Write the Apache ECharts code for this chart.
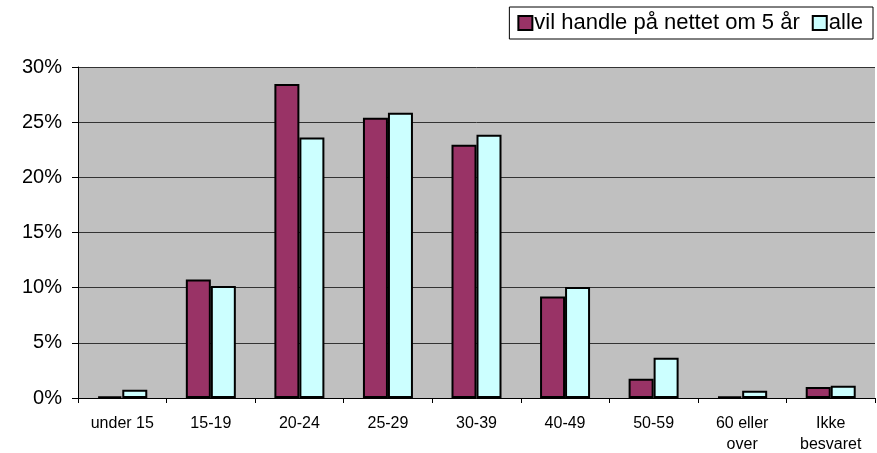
<!DOCTYPE html>
<html><head><meta charset="utf-8">
<script src="https://cdn.jsdelivr.net/npm/echarts@6/dist/echarts.min.js"></script>
<style>html,body{margin:0;padding:0;background:#fff}#c{width:877px;height:453px}</style>
</head><body><div id="c"></div>
<script>
const categories = ['under 15', '15-19', '20-24', '25-29', '30-39', '40-49', '50-59', '60 eller\nover', 'Ikke\nbesvaret'];
const seriesNames = ['vil handle på nettet om 5 år', 'alle'];
const vilHandle = [0.15, 10.75, 28.45, 25.4, 22.95, 9.2, 1.75, 0.15, 1.0];
const alle = [0.75, 10.15, 23.6, 25.85, 23.85, 10.05, 3.65, 0.65, 1.1];
const yTicks = { min: 0, max: 30, interval: 5 };

const chart = echarts.init(document.getElementById('c'), null, { renderer: 'canvas' });
const font = 'Liberation Sans, Arial, sans-serif';
chart.setOption({
  animation: false,
  textStyle: { fontFamily: font },
  grid: { left: 78, right: 2, top: 67, bottom: 55, show: true, backgroundColor: '#c0c0c0', borderWidth: 0,
          containLabel: false, outerBoundsMode: 'none' },
  legend: {
    right: 4, top: 7,
    backgroundColor: '#fff', borderColor: '#000', borderWidth: 1,
    padding: [5, 10, 5, 8],
    itemWidth: 14, itemHeight: 14, itemGap: 12,
    icon: 'rect',
    textStyle: { fontSize: 22, color: '#000', fontFamily: font, padding: [0, 0, 0, -3] },
    data: seriesNames
  },
  xAxis: {
    type: 'category', data: categories,
    axisLine: { lineStyle: { color: '#000', width: 1 } },
    axisTick: { show: true, length: 5, lineStyle: { color: '#000' } },
    axisLabel: { color: '#000', fontSize: 16, margin: 15, lineHeight: 21, interval: 0 }
  },
  yAxis: {
    type: 'value', min: yTicks.min, max: yTicks.max, interval: yTicks.interval,
    axisLine: { show: true, lineStyle: { color: '#000', width: 1 } },
    axisTick: { show: true, length: 6, lineStyle: { color: '#000' } },
    axisLabel: { color: '#000', fontSize: 20, margin: 16, formatter: '{value}%' },
    splitLine: { show: true, lineStyle: { color: '#333', width: 1 } }
  },
  series: [
    { name: seriesNames[0], type: 'bar', data: vilHandle, barWidth: 25, barGap: '0%',
      itemStyle: { color: '#993366', borderColor: '#000', borderWidth: 2 } },
    { name: seriesNames[1], type: 'bar', data: alle, barWidth: 25, barGap: '0%',
      itemStyle: { color: '#ccffff', borderColor: '#000', borderWidth: 2 } }
  ]
});
</script></body></html>
